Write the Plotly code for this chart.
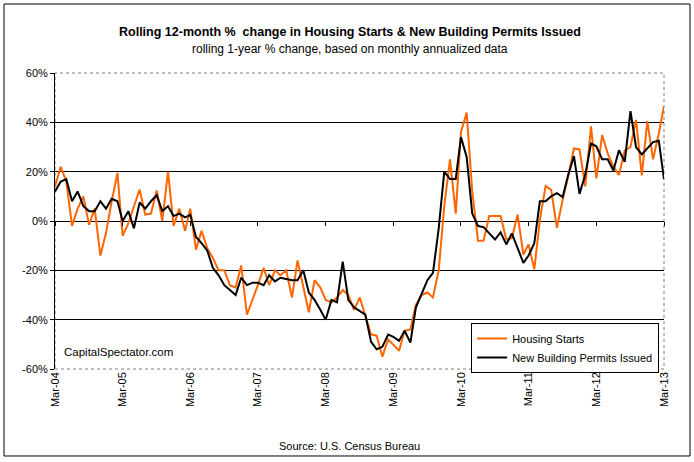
import pandas as pd
import plotly.graph_objects as go

start_month = "2004-03-01"
n_months = 109
months = pd.date_range(start_month, periods=n_months, freq="MS")

housing_starts = [
    14, 22, 16, -2, 5, 10, -1.5, 5, -14, -5,
    8, 19.5, -6, -1, 6, 12.7, 2.6, 3, 12.4, 0,
    20, -2, 5, -4, 5, -11.6, -4, -11, -15, -20,
    -20, -26, -27, -18, -38, -32, -26, -19, -26, -20,
    -22, -20, -31, -16, -27, -37, -24, -27, -32, -33,
    -31, -28, -30, -36, -31, -38, -46, -46.5, -55, -48,
    -50, -52.6, -44.5, -44, -34, -30, -29, -31, -20, 6,
    25, 3, 36, 44, 12, -8, -8, 2, 2, 2,
    -7.5, -7, 2.6, -13.6, -9.5, -19.6, 0.5, 14.2, 12.6, -2.8,
    8.6, 18, 29.4, 29, 14, 38.4, 17.3, 34.8, 27.4, 22,
    18.7, 28.5, 30, 41, 18.5, 40.5, 25, 35.5, 46.5,
]

building_permits = [
    12, 16, 17, 8, 12, 6, 4, 4, 8, 5,
    9, 8, 0, 4, -3, 7.5, 5, 8, 10.5, 4,
    6, 2, 3, 1.5, 2.5, -6.5, -9, -12, -19, -22,
    -26, -28, -30, -23, -26, -25, -25, -26, -22, -24.5,
    -23, -23.5, -24, -24, -20, -29, -32, -36, -40, -32,
    -33, -16.5, -32, -35, -36.5, -38, -49, -52, -51, -46,
    -47, -48.6, -44.5, -49.3, -35, -29.5, -24, -21, -3, 20,
    17, 17, 34, 26, 3, -2, -2.5, -5, -7.5, -4.6,
    -9.5, -5, -11, -17, -14, -9, 8, 8, 10, 11.3,
    9.7, 18.7, 26.3, 11, 18.7, 31.4, 30.3, 25, 25, 20.5,
    28.7, 24, 44.5, 30, 27, 29.5, 32, 32.5, 17,
]

y_ticks = [-60, -40, -20, 0, 20, 40, 60]
y_grid = [-40, -20, 0, 20, 40]
x_ticks = pd.date_range(start_month, periods=10, freq="12MS")
x_ticktext = [d.strftime("%b-%y") for d in x_ticks]

FONT = "Liberation Sans, Arial, sans-serif"

fig = go.Figure()
fig.add_trace(go.Scatter(x=months, y=housing_starts, mode="lines",
                         name="Housing Starts",
                         line=dict(color="#FF6600", width=2)))
fig.add_trace(go.Scatter(x=months, y=building_permits, mode="lines",
                         name="New Building Permits Issued", xaxis="x2",
                         line=dict(color="#000000", width=2)))

x_range = [months[0], months[-1]]

fig.update_layout(
    width=694, height=462,
    margin=dict(l=55, r=30, t=73, b=93),
    paper_bgcolor="white", plot_bgcolor="white",
    font=dict(family=FONT, size=11, color="black"),
    showlegend=True,
    legend=dict(x=0.992, y=0.155, xanchor="right", yanchor="top",
                bgcolor="white", bordercolor="black", borderwidth=1,
                font=dict(size=11), itemwidth=30, tracegroupgap=0),
    xaxis=dict(range=x_range, tickmode="array", tickvals=x_ticks,
               ticktext=x_ticktext, tickangle=-90, showgrid=False,
               zeroline=False, showline=False, ticks="",
               tickfont=dict(size=11)),
    xaxis2=dict(range=x_range, overlaying="x", anchor="free", position=0.5,
                tickmode="array", tickvals=x_ticks, showticklabels=False,
                showgrid=False, zeroline=False, showline=False,
                ticks="outside", ticklen=4, tickcolor="black", tickwidth=1),
    yaxis=dict(range=[-60, 60], tickmode="array", tickvals=y_ticks,
               ticktext=[f"{v}%" for v in y_ticks], showgrid=False,
               zeroline=False, showline=True, linecolor="black", linewidth=1,
               ticks="outside", ticklen=4, tickcolor="black",
               tickfont=dict(size=11),
               minor=dict(tickmode="array", tickvals=y_grid, showgrid=True,
                          gridcolor="black", gridwidth=1, ticks="")),
)

# plot-area border (dotted grey) and outer chart frame
fig.add_shape(type="rect", xref="paper", yref="paper", x0=0, x1=1, y0=0, y1=1,
              line=dict(color="#808080", width=1, dash="dot"), layer="below")
fig.add_shape(type="rect", xref="paper", yref="paper",
              x0=-0.0837, x1=1.0427, y0=-0.2939, y1=1.2331,
              line=dict(color="black", width=1))

fig.add_annotation(text="<b>Rolling 12-month %  change in Housing Starts & New Building Permits Issued</b>",
                   xref="paper", yref="paper", x=0.4844, y=1.1385,
                   showarrow=False, font=dict(size=12.5), xanchor="center", yanchor="middle")
fig.add_annotation(text="rolling 1-year % change, based on monthly annualized data",
                   xref="paper", yref="paper", x=0.4844, y=1.081,
                   showarrow=False, font=dict(size=12), xanchor="center", yanchor="middle")
fig.add_annotation(text="Source: U.S. Census Bureau",
                   xref="paper", yref="paper", x=0.4844, y=-0.260,
                   showarrow=False, font=dict(size=11), xanchor="center", yanchor="middle")
fig.add_annotation(text="CapitalSpectator.com",
                   xref="paper", yref="paper", x=0.0115, y=0.0574,
                   showarrow=False, font=dict(size=11.5), xanchor="left", yanchor="middle")

fig.write_html("out.html", config={"displayModeBar": False},
               post_script="document.body.style.margin='0';document.body.style.overflow='hidden';")
